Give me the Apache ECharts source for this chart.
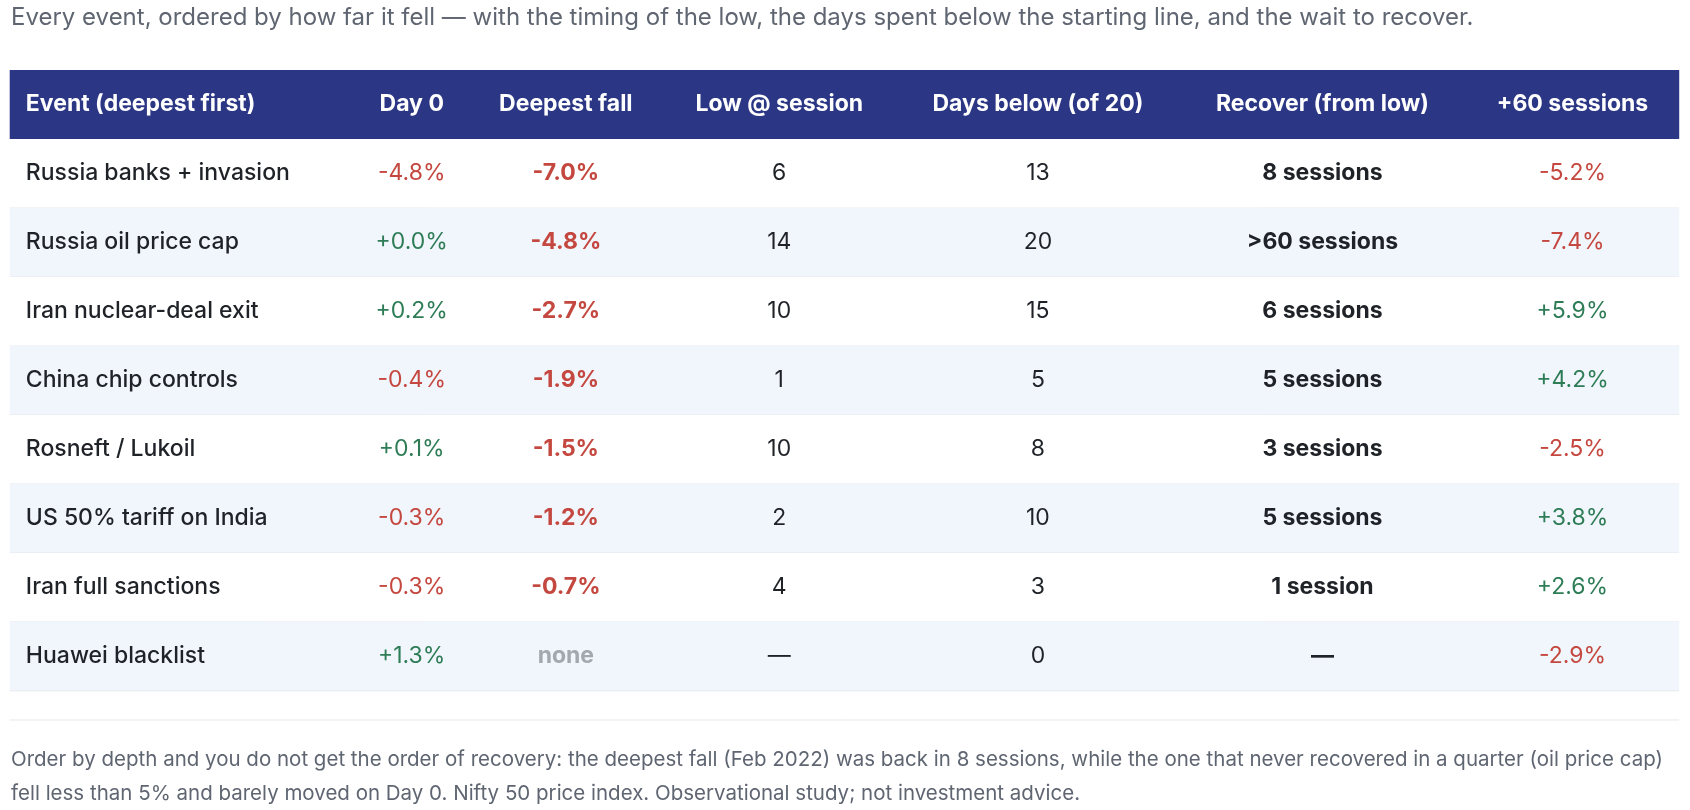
<!DOCTYPE html>
<html><head><meta charset="utf-8">
<script src="https://cdn.jsdelivr.net/npm/echarts@6/dist/echarts.min.js"></script>
<style>html,body{margin:0;background:#fff}#main{width:1690px;height:810px}</style>
</head><body><div id="main"></div>
<script>
var headers = ['Event (deepest first)','Day 0','Deepest fall','Low @ session','Days below (of 20)','Recover (from low)','+60 sessions'];
var events = ['Russia banks + invasion','Russia oil price cap','Iran nuclear-deal exit','China chip controls','Rosneft / Lukoil','US 50% tariff on India','Iran full sanctions','Huawei blacklist'];
var day0 = ['-4.8%','+0.0%','+0.2%','-0.4%','+0.1%','-0.3%','-0.3%','+1.3%'];
var deepest = ['-7.0%','-4.8%','-2.7%','-1.9%','-1.5%','-1.2%','-0.7%','none'];
var lowAt = ['6','14','10','1','10','2','4','—'];
var daysBelow = ['13','20','15','5','8','10','3','0'];
var recover = ['8 sessions','>60 sessions','6 sessions','5 sessions','3 sessions','5 sessions','1 session','—'];
var plus60 = ['-5.2%','-7.4%','+5.9%','+4.2%','-2.5%','+3.8%','+2.6%','-2.9%'];

var RED = '#c4483f', GREEN = '#2f7d57', INK = '#1f2328', GREY = '#5f6672';
var FONT = 'Inter, "Noto Sans", sans-serif';
var k = 1690 / 1568;
var colX = [24, 382, 525, 723, 963, 1227, 1459].map(function(v){ return v*k; });
var top0 = 65*k, headH = 64*k, rowH = 64*k, left = 9*k, right = 1558*k;

function signColor(s){ return s.charAt(0) === '-' ? RED : (s.charAt(0) === '+' ? GREEN : INK); }

var g = [];
g.push({type:'text', left:11, top:6, style:{text:'Every event, ordered by how far it fell — with the timing of the low, the days spent below the starting line, and the wait to recover.', fill:GREY, font:'24px '+FONT}});
g.push({type:'rect', shape:{x:left, y:top0, width:right-left, height:headH}, style:{fill:'#2b3784'}});
headers.forEach(function(h, i){
  g.push({type:'text', x:colX[i], y:top0+headH/2, style:{text:h, fill:'#fff', font:'bold 23px '+FONT, align:i===0?'left':'center', verticalAlign:'middle'}});
});
events.forEach(function(ev, r){
  var y = top0 + headH + r*rowH;
  g.push({type:'rect', shape:{x:left, y:y, width:right-left, height:rowH}, style:{fill:r%2?'#f1f6fd':'#fff'}});
  g.push({type:'line', shape:{x1:left, y1:y+rowH, x2:right, y2:y+rowH}, style:{stroke:'#e6eaf0', lineWidth:1}});
  var cy = y + rowH/2;
  var cells = [
    [ev, INK, '500'],
    [day0[r], signColor(day0[r]), 'normal'],
    [deepest[r], deepest[r]==='none' ? '#a3a8b0' : RED, 'bold'],
    [lowAt[r], INK, 'normal'],
    [daysBelow[r], INK, 'normal'],
    [recover[r], INK, 'bold'],
    [plus60[r], signColor(plus60[r]), 'normal']
  ];
  cells.forEach(function(c, i){
    g.push({type:'text', x:colX[i], y:cy, style:{text:c[0], fill:c[1], font:c[2]+' 23px '+FONT, align:i===0?'left':'center', verticalAlign:'middle'}});
  });
});
g.push({type:'line', shape:{x1:left, y1:668*k, x2:right, y2:668*k}, style:{stroke:'#e6e8ec', lineWidth:1}});
g.push({type:'text', left:11, top:743, style:{text:'Order by depth and you do not get the order of recovery: the deepest fall (Feb 2022) was back in 8 sessions, while the one that never recovered in a quarter (oil price cap)\nfell less than 5% and barely moved on Day 0. Nifty 50 price index. Observational study; not investment advice.', fill:GREY, font:'20.5px '+FONT, lineHeight:34}});

var myChart = echarts.init(document.getElementById('main'));
myChart.setOption({animation:false, graphic:g});
</script></body></html>
